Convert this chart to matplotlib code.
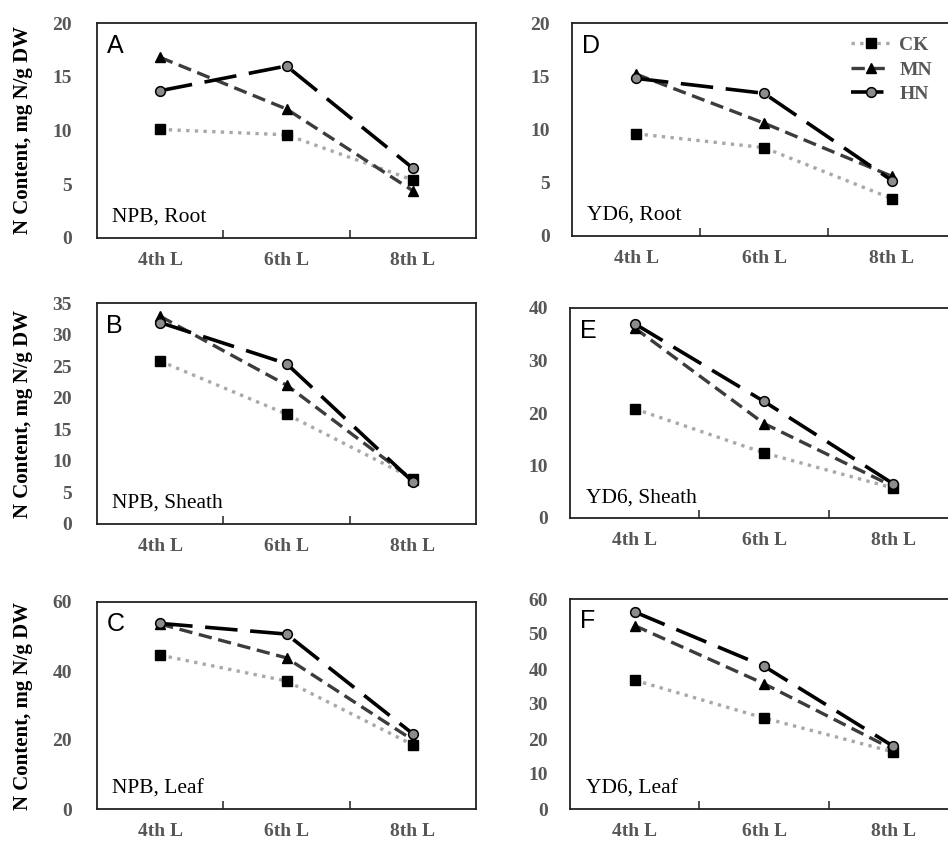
"""
N content in root, sheath and leaf of NPB and YD6 at three leaf stages.
Six small line panels (A-F) in the style of the original Excel figure.
"""

import matplotlib
matplotlib.use("Agg")
import matplotlib.pyplot as plt
from matplotlib.ticker import FixedLocator

# ---------------------------------------------------------------------------
# Data
# ---------------------------------------------------------------------------

STAGES = ["4th L", "6th L", "8th L"]
TREATMENTS = ["CK", "MN", "HN"]

# NPB
npb_root_ck = [10.1, 9.6, 5.4]
npb_root_mn = [16.8, 12.0, 4.4]
npb_root_hn = [13.7, 16.0, 6.5]

npb_sheath_ck = [25.8, 17.4, 7.2]
npb_sheath_mn = [32.9, 22.0, 7.0]
npb_sheath_hn = [31.9, 25.4, 6.7]

npb_leaf_ck = [44.6, 37.1, 18.6]
npb_leaf_mn = [53.6, 43.8, 20.0]
npb_leaf_hn = [53.8, 50.7, 21.8]

# YD6
yd6_root_ck = [9.6, 8.3, 3.5]
yd6_root_mn = [15.2, 10.6, 5.6]
yd6_root_hn = [14.8, 13.4, 5.2]

yd6_sheath_ck = [20.8, 12.4, 5.7]
yd6_sheath_mn = [36.2, 18.0, 6.0]
yd6_sheath_hn = [37.0, 22.2, 6.5]

yd6_leaf_ck = [36.8, 26.0, 16.3]
yd6_leaf_mn = [52.4, 35.8, 17.0]
yd6_leaf_hn = [56.3, 40.8, 17.9]

# (letter, caption, ymax, ystep, series)
PANELS = [
    ("A", "NPB, Root",   20, 5,  [npb_root_ck, npb_root_mn, npb_root_hn]),
    ("B", "NPB, Sheath", 35, 5,  [npb_sheath_ck, npb_sheath_mn, npb_sheath_hn]),
    ("C", "NPB, Leaf",   60, 20, [npb_leaf_ck, npb_leaf_mn, npb_leaf_hn]),
    ("D", "YD6, Root",   20, 5,  [yd6_root_ck, yd6_root_mn, yd6_root_hn]),
    ("E", "YD6, Sheath", 40, 10, [yd6_sheath_ck, yd6_sheath_mn, yd6_sheath_hn]),
    ("F", "YD6, Leaf",   60, 10, [yd6_leaf_ck, yd6_leaf_mn, yd6_leaf_hn]),
]

# ---------------------------------------------------------------------------
# Styling
# ---------------------------------------------------------------------------

W, H = 948, 843
SERIF = "Liberation Serif"
SANS = "Liberation Sans"
TICK_COLOR = "#575757"

STYLE = {
    "CK": dict(color="#a8a8a8", linestyle=(0, (1, 1.6)), linewidth=2.4,
               marker="s", markersize=6.5, markerfacecolor="black",
               markeredgecolor="black"),
    "MN": dict(color="#3c3c3c", linestyle=(0, (4, 2)), linewidth=2.4,
               marker="^", markersize=6.5, markerfacecolor="black",
               markeredgecolor="black"),
    "HN": dict(color="black", linestyle=(0, (9, 3.5)), linewidth=2.6,
               marker="o", markersize=7, markerfacecolor="#8c8c8c",
               markeredgecolor="black", markeredgewidth=1.1),
}

# axes boxes in pixels: (left, top, right, bottom)
BOXES = {
    "A": (97, 23, 476, 238),
    "B": (97, 303, 476, 524),
    "C": (97, 602, 476, 809),
    "D": (572, 23, 956, 236),
    "E": (570, 308, 958, 518),
    "F": (570, 599, 958, 809),
}


def _rect(box):
    l, t, r, b = box
    return [l / W, 1 - b / H, (r - l) / W, (b - t) / H]


def main() -> None:
    fig = plt.figure(figsize=(W / 100, H / 100), dpi=100)

    for letter, caption, ymax, ystep, series in PANELS:
        ax = fig.add_axes(_rect(BOXES[letter]))
        x = range(len(STAGES))
        for name, vals in zip(TREATMENTS, series):
            ax.plot(x, vals, label=name, clip_on=False, **STYLE[name])

        ax.set_xlim(-0.5, len(STAGES) - 0.5)
        ax.set_ylim(0, ymax)
        ax.set_yticks(range(0, ymax + 1, ystep))
        ax.set_xticks(list(x))
        ax.set_xticklabels(STAGES)
        ax.xaxis.set_minor_locator(FixedLocator([0.5, 1.5]))
        ax.tick_params(axis="x", which="major", length=0, pad=10)
        ax.tick_params(axis="x", which="minor", direction="in", length=6,
                       width=1.2, color="#333333")
        ax.tick_params(axis="y", length=0, pad=18 if letter in "ABC" else 16)
        for lab in ax.get_xticklabels() + ax.get_yticklabels():
            lab.set_fontfamily(SERIF)
            lab.set_fontweight("bold")
            lab.set_fontsize(14)
            lab.set_color(TICK_COLOR)

        for sp in ax.spines.values():
            sp.set_linewidth(1.3)
            sp.set_color("#222222")

        ax.text(0.025, 0.95, letter, transform=ax.transAxes, ha="left",
                va="top", fontsize=18, fontfamily=SANS)
        ax.text(0.04, 0.075, caption, transform=ax.transAxes, ha="left",
                va="baseline", fontsize=15.5, fontfamily=SERIF)

        if letter in "ABC":
            ax.set_ylabel("N Content, mg N/g DW", fontsize=15,
                          fontweight="bold", fontfamily=SERIF)
            ax.yaxis.set_label_coords(-0.17, 0.5)

        if letter == "D":
            leg = ax.legend(loc="upper left", bbox_to_anchor=(0.69, 1.0),
                            frameon=False, handlelength=2.1,
                            handletextpad=0.4, labelspacing=0.35,
                            borderaxespad=0.3,
                            prop=dict(family=SERIF, weight="bold", size=14))
            for t in leg.get_texts():
                t.set_color(TICK_COLOR)

    fig.savefig("out.png", dpi=100)
    plt.close(fig)


if __name__ == "__main__":
    main()
